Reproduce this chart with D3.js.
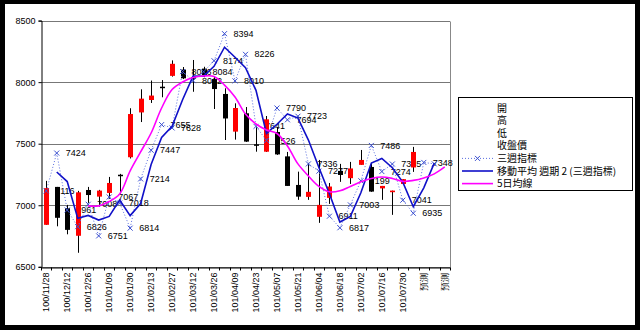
<!DOCTYPE html>
<html><head><meta charset="utf-8">
<script src="https://cdn.jsdelivr.net/npm/d3@7"></script>
<style>body{margin:0;background:#000;overflow:hidden}</style>
</head><body>
<svg id="c" width="640" height="330"></svg>
<script>
const categories = ["100/11/28","100/12/05","100/12/12","100/12/19","100/12/26","101/01/02","101/01/09","101/01/16","101/01/30","101/02/06","101/02/13","101/02/20","101/02/27","101/03/05","101/03/12","101/03/19","101/03/26","101/04/02","101/04/09","101/04/16","101/04/23","101/04/30","101/05/07","101/05/14","101/05/21","101/05/28","101/06/04","101/06/11","101/06/18","101/06/25","101/07/02","101/07/09","101/07/16","101/07/23","101/07/30","101/08/06","預測","預測","預測"];
const openV  = [6841,7149,6976,6752,7124,7070,7100,7248,7390,7754,7855,7963,8051,8102,8040,8110,8025,7904,7598,7747,7495,7435,7595,7397,7165,7068,6906,7060,7279,7220,7328,7311,7137,7106,7173,7307,null,null,null];
const highV  = [7198,7149,7003,7117,7149,7125,7230,7255,7788,7942,8013,8017,8177,8123,8180,8125,8045,7950,7828,7798,7638,7725,7636,7433,7273,7344,7368,7181,7336,7352,7449,7344,7157,7119,7212,7474,null,null,null];
const lowV   = [6841,6829,6764,6614,7019,7003,7052,7094,7380,7676,7831,7877,8045,8025,7922,8040,7782,7530,7533,7514,7435,7433,7409,7157,7044,7044,6857,7011,7190,7173,7328,7109,7044,6922,7173,7271,null,null,null];
const closeV = [7139,6898,6800,7105,7083,7119,7181,7241,7741,7866,7891,7958,8149,8031,8035,8058,7944,7705,7790,7517,7490,7698,7413,7157,7070,7109,7003,7152,7246,7299,7368,7111,7157,7119,7212,7433,null,null,null];
const threeWeek = [7116,7424,6961,6826,7008,6751,7067,7018,6814,7214,7447,7655,7628,8086,8012,8084,8174,8394,8010,8226,7641,7526,7790,7694,7723,7336,7277,6911,6817,7003,7199,7486,7274,7335,7041,6935,7348,7336,null];
const threeWeekLabels = ["7116","7424","6961","6826","7008","6751","7067","7018","6814","7214","7447","7655","7628","8086","8012","8084","8174","8394","8010","8226","7641","7526","7790","7694","7723","7336","7277","6911","6817","7003","7199","7486","7274","7335","7041","6935","7348",null,null];
const movingAvg2 = [null,7270,7192.5,6893.5,6917,6879.5,6909,7042.5,6916,7014,7330.5,7551,7641.5,7857,8049,8048,8129,8284,8202,8118,7933.5,7583.5,7658,7742,7708.5,7529.5,7306.5,7094,6864,6910,7101,7342.5,7380,7304.5,7188,6988,7141.5,7342,null];
const ma5 = [null,null,null,null,6995,6995,7030,7092,7279,7433,7587,7790,7940,8001,8038,8050,8046,7976,7879,7741,7660,7612,7583,7482,7336,7238,7153,7109,7117,7153,7190,7218,7230,7218,7194,7202,7222,7255,7311];
const yTicks = [6500,7000,7500,8000,8500];
const legendItems = ["開","高","低","收盤價","三週指標","移動平均 週期 2 (三週指標)","5日均線"];

const svg = d3.select('#c');
const font = '"Liberation Sans", Arial, sans-serif';
svg.append('rect').attr('width',640).attr('height',330).attr('fill','#000');
svg.append('rect').attr('x',5).attr('y',4).attr('width',630).attr('height',321).attr('fill','#fff');

const x = d3.scaleBand().domain(d3.range(categories.length)).range([41,450]);
const y = d3.scaleLinear().domain([6500,8500]).range([266.8,20.6]);
const cx = i => x(i) + x.bandwidth()/2;
const idx = d3.range(categories.length);

// grid
svg.append('g').selectAll('line').data(yTicks).join('line')
  .attr('x1',41).attr('x2',450)
  .attr('y1',d=>Math.round(y(d))+0.5).attr('y2',d=>Math.round(y(d))+0.5)
  .attr('stroke','#777').attr('stroke-width',1);
// right border
svg.append('line').attr('x1',450.5).attr('x2',450.5).attr('y1',Math.round(y(8500))+0.5).attr('y2',Math.round(y(6500))+0.5)
  .attr('stroke','#888');

// y axis
const ya = svg.append('g').attr('transform','translate(41.5,0)')
  .call(d3.axisLeft(y).tickValues(yTicks).tickSize(3).tickPadding(3).tickFormat(d=>d));
ya.select('.domain').attr('stroke','#000');
ya.selectAll('text').attr('font-family',font).attr('font-size','9px').attr('fill','#000');

// x axis
const bottomY = Math.round(y(6500))+0.5;
const xa = svg.append('g').attr('transform',`translate(0,${bottomY})`)
  .call(d3.axisBottom(x).tickValues(idx.filter(i=>i%2===0)).tickSize(0).tickFormat(i=>categories[i]));
xa.select('.domain').attr('stroke','#000');
xa.selectAll('text').attr('font-family',font).attr('font-size','9px').attr('fill','#000')
  .attr('transform','rotate(-90)').attr('text-anchor','end').attr('x',-5).attr('y',0).attr('dy','0.35em');
// boundary ticks
svg.append('g').selectAll('line').data(d3.range(categories.length+1)).join('line')
  .attr('x1',i=>Math.round(i<categories.length?x(i):x.range()[1])+0.5)
  .attr('x2',i=>Math.round(i<categories.length?x(i):x.range()[1])+0.5)
  .attr('y1',bottomY).attr('y2',bottomY+3).attr('stroke','#000');

// data labels (under candles)
svg.append('g').selectAll('text').data(idx.filter(i=>threeWeekLabels[i]!=null && threeWeek[i]!=null)).join('text')
  .attr('x',i=>cx(i)+9).attr('y',i=>y(threeWeek[i])).attr('dy','0.35em')
  .attr('font-family',font).attr('font-size','9px').attr('fill','#000')
  .text(i=>threeWeekLabels[i]);

// candles
const cIdx = idx.filter(i=>openV[i]!=null);
const cg = svg.append('g');
cg.selectAll('line').data(cIdx).join('line')
  .attr('x1',i=>Math.round(cx(i))+0.5).attr('x2',i=>Math.round(cx(i))+0.5)
  .attr('y1',i=>y(highV[i])).attr('y2',i=>y(lowV[i])).attr('stroke','#000');
const bw = 5;
cg.selectAll('rect').data(cIdx).join('rect')
  .attr('x',i=>Math.round(cx(i))+0.5-bw/2)
  .attr('width',bw)
  .attr('y',i=>y(Math.max(openV[i],closeV[i])))
  .attr('height',i=>Math.max(1.5,Math.abs(y(openV[i])-y(closeV[i]))))
  .attr('fill',i=>closeV[i]>=openV[i]?'#ff0000':'#000');

// three week dotted line
const lineTW = d3.line().defined(d=>d[1]!=null).x(d=>cx(d[0])).y(d=>y(d[1]));
svg.append('path').datum(idx.map(i=>[i,threeWeek[i]])).attr('d',lineTW)
  .attr('fill','none').attr('stroke','#5a6ee0').attr('stroke-width',1).attr('stroke-dasharray','1,2');
// x markers
svg.append('g').selectAll('path').data(idx.filter(i=>threeWeek[i]!=null)).join('path')
  .attr('d',i=>{const a=cx(i),b=y(threeWeek[i]),s=2.5;return `M${a-s},${b-s}L${a+s},${b+s}M${a-s},${b+s}L${a+s},${b-s}`;})
  .attr('stroke','#3a4fd0').attr('stroke-width',1).attr('fill','none');

// moving average 2
svg.append('path').datum(idx.map(i=>[i,movingAvg2[i]])).attr('d',lineTW)
  .attr('fill','none').attr('stroke','#1010c8').attr('stroke-width',1.6);
// 5 day MA
const lineSm = d3.line().defined(d=>d[1]!=null).x(d=>cx(d[0])).y(d=>y(d[1])).curve(d3.curveCatmullRom.alpha(0.5));
svg.append('path').datum(idx.map(i=>[i,ma5[i]])).attr('d',lineSm)
  .attr('fill','none').attr('stroke','#ff00ff').attr('stroke-width',1.6);

// legend
const lg = svg.append('g');
lg.append('rect').attr('x',458.5).attr('y',97.5).attr('width',174).attr('height',93)
  .attr('fill','#fff').attr('stroke','#000');
const ly = k => 108 + k*12.6;
lg.selectAll('text').data(legendItems).join('text')
  .attr('x',497).attr('y',(d,k)=>ly(k)).attr('dy','0.35em')
  .attr('font-family','"Noto Sans CJK TC", sans-serif').attr('font-size','10px').attr('fill','#000')
  .text(d=>d);
lg.append('line').attr('x1',462).attr('x2',493).attr('y1',ly(4)).attr('y2',ly(4))
  .attr('stroke','#5a6ee0').attr('stroke-dasharray','1,2');
lg.append('path').attr('d',`M${477.5-2.5},${ly(4)-2.5}L${477.5+2.5},${ly(4)+2.5}M${477.5-2.5},${ly(4)+2.5}L${477.5+2.5},${ly(4)-2.5}`)
  .attr('stroke','#3a4fd0');
lg.append('line').attr('x1',462).attr('x2',493).attr('y1',ly(5)).attr('y2',ly(5))
  .attr('stroke','#1010c8').attr('stroke-width',1.6);
lg.append('line').attr('x1',462).attr('x2',493).attr('y1',ly(6)).attr('y2',ly(6))
  .attr('stroke','#ff00ff').attr('stroke-width',1.6);
</script>
</body></html>
